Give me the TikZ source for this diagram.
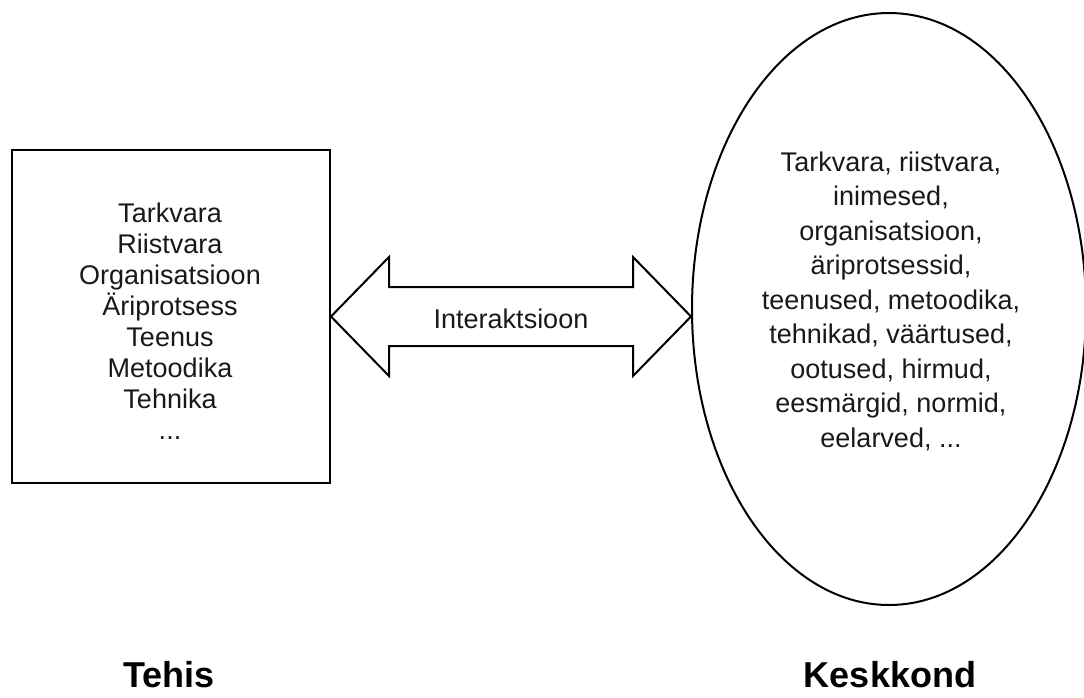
\documentclass[tikz,border=0pt]{standalone}
\usepackage{fontspec}
\setmainfont{Liberation Sans}
\usetikzlibrary{shapes.geometric,calc}
\begin{document}
\begin{tikzpicture}[x=1pt,y=-1pt,
  outline/.style={draw=black, line width=2pt, line join=miter},
  bodytext/.style={font=\fontsize{27}{31}\selectfont, align=center, text=black!90, inner sep=0pt},
  envtext/.style={font=\fontsize{27}{34.5}\selectfont, align=center, text=black!90, inner sep=0pt},
  titletext/.style={font=\bfseries\fontsize{36}{40}\selectfont, text=black, inner sep=0pt, anchor=base}]
\useasboundingbox (0,0) rectangle (1084,697);
% artefact box
\node[outline, rectangle, minimum width=318pt, minimum height=333pt, inner sep=0pt] (tehis) at (171,316.5) {};
\node[bodytext] (tehistext) at (170,321) {Tarkvara\\Riistvara\\Organisatsioon\\Äriprotsess\\Teenus\\Metoodika\\Tehnika\\...};
% environment ellipse
\node[outline, ellipse, minimum width=394pt, minimum height=592pt, inner sep=0pt] (keskkond) at (889,309) {};
\node[envtext] (keskkondtext) at (891,301) {Tarkvara, riistvara,\\inimesed,\\organisatsioon,\\äriprotsessid,\\teenused, metoodika,\\tehnikad, väärtused,\\ootused, hirmud,\\eesmärgid, normid,\\eelarved, ...};
% double arrow
\coordinate (tipR) at (keskkond.west |- tehis.east);
\draw[outline] (tehis.east) -- ++(58,-59.5) -- ++(0,30) -- ($(tipR)+(-58,-29.5)$) -- ++(0,-30) -- (tipR)
  -- ++(-58,59.5) -- ++(0,-30) -- ($(tehis.east)+(58,29.5)$) -- ++(0,30) -- cycle;
\node[bodytext, anchor=base] (interaktsioon) at ($(tehis.east)!0.5!(tipR)+(0,11.5)$) {Interaktsioon};
% titles
\node[titletext] (tehislabel) at (169,687) {Tehis};
\node[titletext] (keskkondlabel) at (890,687) {Keskkond};
\end{tikzpicture}
\end{document}
